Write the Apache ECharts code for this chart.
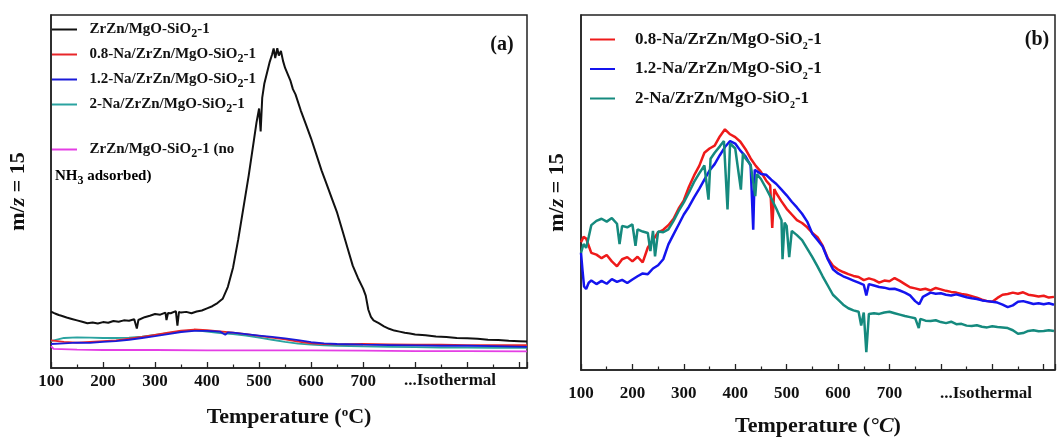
<!DOCTYPE html>
<html><head><meta charset="utf-8">
<script src="https://cdn.jsdelivr.net/npm/echarts@6/dist/echarts.min.js"></script>
<style>html,body{margin:0;padding:0;background:#fff}#c{width:1058px;height:442px}</style>
</head><body><div id="c"></div>
<script>
const SERIF = "'Liberation Serif','Times New Roman',serif";
const tickLabels = [100, 200, 300, 400, 500, 600, 700];
const isoText = '...Isothermal';
const namesA = ['ZrZn/MgO-SiO2-1', '0.8-Na/ZrZn/MgO-SiO2-1', '1.2-Na/ZrZn/MgO-SiO2-1', '2-Na/ZrZn/MgO-SiO2-1', 'ZrZn/MgO-SiO2-1 (no NH3 adsorbed)'];
const namesB = ['0.8-Na/ZrZn/MgO-SiO2-1 (b)', '1.2-Na/ZrZn/MgO-SiO2-1 (b)', '2-Na/ZrZn/MgO-SiO2-1 (b)'];

// Panel (a)
const aBlack = [[100,16.0],[105,15.6],[110,15.3],[115,15.0],[120,14.8],[130,14.3],[140,13.9],[150,13.5],[160,13.1],[170,12.7],[180,12.9],[190,12.6],[200,13.0],[210,12.8],[220,13.3],[230,13.1],[240,13.5],[250,13.4],[260,13.8],[265,11.2],[268,13.6],[280,14.4],[290,14.8],[300,15.3],[310,15.1],[320,15.7],[322,13.6],[325,15.6],[330,15.5],[340,16.1],[343,12.0],[346,15.9],[350,15.7],[360,15.9],[370,15.5],[380,16.0],[390,16.3],[400,16.9],[410,17.5],[420,18.4],[430,19.6],[440,23.0],[450,28.5],[460,36.5],[470,45.5],[480,54.5],[490,64.5],[495,69.5],[500,73.5],[503,67.0],[506,76.5],[510,80.5],[520,86.5],[525,88.8],[528,90.5],[531,87.8],[535,90.6],[538,88.5],[542,89.8],[546,87.0],[550,85.0],[560,81.5],[565,79.0],[570,77.5],[580,73.0],[590,69.0],[600,65.0],[610,60.5],[620,56.0],[630,52.0],[640,48.0],[650,44.0],[660,39.0],[670,34.0],[680,29.0],[690,25.5],[700,22.5],[705,20.5],[710,16.5],[715,14.5],[720,13.5],[730,12.7],[740,11.8],[750,11.1],[760,10.6],[770,10.3],[780,10.0],[790,9.8],[800,9.5],[820,9.3],[840,8.9],[860,8.8],[880,8.5],[900,8.4],[920,8.3],[940,8.0],[960,7.9],[980,7.7],[1000,7.6],[1015,7.5]];
const aRed = [[100,7.8],[125,7.4],[150,7.2],[175,7.4],[200,7.6],[225,7.8],[250,8.3],[275,8.8],[300,9.4],[325,10.0],[350,10.6],[375,10.9],[400,10.7],[425,10.4],[450,10.0],[475,9.6],[500,9.1],[525,8.6],[550,8.1],[575,7.5],[600,7.0],[625,6.8],[650,6.7],[700,6.8],[750,6.7],[800,6.6],[850,6.6],[900,6.5],[950,6.5],[1015,6.5]];
const aBlue = [[100,6.8],[125,7.0],[150,7.2],[175,7.1],[200,7.4],[225,7.6],[250,8.0],[275,8.5],[300,9.0],[325,9.6],[350,10.2],[375,10.5],[400,10.5],[425,10.3],[435,9.4],[440,10.1],[450,10.0],[475,9.6],[500,9.2],[525,8.8],[550,8.4],[575,7.9],[600,7.3],[625,7.0],[650,6.8],[700,6.6],[750,6.5],[800,6.4],[850,6.3],[900,6.3],[950,6.2],[1015,6.0]];
const aTeal = [[100,7.6],[125,8.5],[150,8.7],[175,8.6],[200,8.5],[225,8.5],[250,8.6],[275,8.9],[300,9.4],[325,9.9],[350,10.4],[375,10.7],[400,10.3],[425,9.9],[450,9.6],[475,9.2],[500,8.6],[525,8.0],[550,7.4],[575,6.9],[600,6.6],[625,6.4],[650,6.3],[700,6.1],[750,6.0],[800,5.9],[850,5.8],[900,5.8],[950,5.7],[1015,5.7]];
const aMagenta = [[100,6.2],[105,5.4],[150,5.2],[200,5.1],[300,5.1],[400,5.0],[500,5.0],[600,5.0],[700,4.9],[800,4.8],[900,4.8],[1015,4.7]];

// Panel (b)
const bRed = [[100,36],[105,37.5],[110,37],[115,35],[120,33],[130,32.5],[140,31.5],[150,32.4],[160,30.6],[170,29.2],[180,31.2],[190,31.8],[200,30.6],[210,31.9],[220,30.3],[230,34.5],[240,36.6],[250,38.8],[260,39.5],[270,40.8],[280,42.6],[290,45.5],[300,47.8],[310,51.6],[320,54.8],[330,57.5],[340,61.2],[350,62.4],[360,63.2],[370,65.8],[380,67.8],[390,66.4],[400,65.6],[410,64.3],[420,62.2],[430,59.6],[440,57.5],[450,55.8],[460,53.4],[468,52.0],[472,40.0],[476,51.0],[480,49.8],[490,47.5],[500,45.4],[510,43.8],[520,42.2],[530,41.4],[540,40.2],[550,38.6],[560,37.4],[570,35.0],[580,31.5],[590,29.4],[600,28.3],[610,27.6],[620,27.0],[630,26.5],[640,26.2],[650,25.3],[660,25.8],[670,25.4],[680,24.6],[690,25.2],[700,25.0],[710,25.9],[720,25.1],[730,24.2],[740,23.3],[750,23.0],[760,22.6],[770,22.9],[780,22.4],[790,23.1],[800,22.7],[810,22.3],[820,22.0],[830,21.8],[840,21.4],[850,21.2],[860,20.8],[870,20.4],[880,19.8],[890,19.4],[900,19.2],[910,20.3],[920,21.2],[930,21.4],[940,21.8],[950,21.5],[960,21.9],[970,21.2],[980,21.0],[990,20.7],[1000,20.9],[1010,20.4],[1020,20.6]];
const bBlue = [[100,33],[103,28],[106,23.5],[110,22.8],[115,24.6],[120,25.2],[130,24.2],[140,25.1],[150,24.3],[160,25.6],[170,24.8],[180,25.4],[190,24.5],[200,25.5],[210,26.4],[220,27.2],[230,27.0],[240,28.6],[250,29.5],[260,31.2],[270,35.4],[280,38.2],[290,41.0],[300,43.8],[310,46.0],[320,48.6],[330,51.0],[340,53.6],[350,56.2],[360,58.0],[370,60.5],[380,62.8],[390,64.5],[400,63.8],[410,61.8],[420,60.2],[430,57.6],[435,39.5],[438,56.4],[450,55.2],[460,55.0],[470,53.6],[480,52.4],[490,50.8],[500,49.2],[510,47.4],[520,45.8],[530,44.0],[540,41.8],[550,38.4],[560,36.6],[570,34.8],[580,31.2],[590,28.4],[600,27.2],[610,26.4],[620,25.8],[630,25.2],[640,24.6],[650,24.0],[655,21.0],[660,24.2],[670,23.8],[680,23.4],[690,23.2],[700,22.8],[710,22.9],[720,22.4],[730,21.8],[740,21.0],[750,19.4],[758,18.5],[765,20.6],[780,21.8],[790,21.5],[800,21.6],[810,21.2],[820,21.0],[830,21.3],[840,20.9],[850,20.5],[860,20.2],[870,20.0],[880,19.6],[890,19.4],[900,19.2],[910,19.0],[920,18.4],[930,17.7],[940,18.2],[950,19.2],[960,19.4],[970,19.0],[980,18.6],[990,18.8],[1000,18.5],[1010,18.8],[1020,18.4]];
const bTeal = [[100,33],[105,35.5],[110,34.4],[115,37.5],[120,40.8],[130,42.0],[140,42.6],[150,41.8],[160,42.8],[170,41.2],[175,35.5],[180,40.6],[190,40.2],[200,41.0],[206,35.0],[210,39.6],[220,39.0],[230,38.6],[235,33.5],[240,39.2],[244,32.0],[250,39.0],[260,38.8],[270,39.6],[280,42.0],[290,44.8],[300,47.2],[310,50.0],[320,53.0],[330,55.4],[340,57.6],[348,48.0],[352,59.5],[360,61.2],[370,63.0],[378,64.5],[385,45.2],[390,63.8],[400,62.4],[411,50.8],[415,61.0],[420,59.6],[430,57.8],[439,49.0],[442,55.2],[450,53.8],[460,51.2],[470,48.4],[480,45.4],[490,42.2],[492,31.2],[496,41.5],[500,40.6],[505,31.8],[510,39.2],[520,38.0],[530,36.6],[540,34.2],[550,31.8],[560,29.2],[570,26.4],[580,23.8],[590,21.2],[600,19.8],[610,18.4],[620,17.4],[630,16.8],[640,16.4],[645,12.5],[650,16.2],[655,5.0],[660,15.8],[670,16.0],[680,15.8],[690,16.2],[700,16.4],[710,16.0],[720,15.6],[730,15.2],[740,14.9],[750,14.6],[757,11.8],[760,14.4],[770,13.9],[780,13.8],[790,14.0],[800,13.5],[810,13.2],[820,13.6],[830,12.9],[840,13.0],[850,12.5],[860,12.4],[870,12.6],[880,12.2],[890,12.0],[900,12.3],[910,12.1],[920,12.0],[930,11.8],[940,11.2],[950,10.2],[960,10.4],[970,11.0],[980,11.2],[990,10.9],[1000,11.0],[1010,11.2],[1020,11.0]];

function subName(name) {
  const n = name.replace(' (b)', '').replace(' NH3 adsorbed)', '');
  const i = n.indexOf('SiO2');
  return '{n|' + n.slice(0, i + 3) + '}{s|2}{n|' + n.slice(i + 4) + '}';
}
const ax = {color: '#111', fontFamily: SERIF, fontWeight: 'bold'};
function xAxisCfg(grid, max, labelMargin, nameGap, nameFmt, nameRich) {
  return {
    gridIndex: grid, type: 'value', min: 100, max: max, interval: 100,
    axisLine: {show: true, onZero: false, lineStyle: {color: '#222', width: 1.5}},
    axisTick: {show: true, inside: true, length: 6, lineStyle: {color: '#222', width: 1.3}},
    minorTick: {show: true, splitNumber: 2, length: 3.5, lineStyle: {color: '#222', width: 1.2}},
    splitLine: {show: false}, minorSplitLine: {show: false},
    axisLabel: Object.assign({fontSize: 17, margin: labelMargin,
      formatter: v => tickLabels.indexOf(v) >= 0 ? String(v) : ''}, ax),
    name: nameFmt, nameLocation: 'middle', nameGap: nameGap,
    nameTextStyle: {rich: nameRich}
  };
}
function yAxisCfg(grid, nameGap) {
  return {
    gridIndex: grid, type: 'value', min: 0, max: 100,
    axisLine: {show: true, lineStyle: {color: '#222', width: 1.5}},
    axisTick: {show: false}, axisLabel: {show: false}, splitLine: {show: false},
    name: '{a|m/}{i|z}{a| = 15}', nameLocation: 'middle', nameGap: nameGap,
    nameTextStyle: {rich: {
      a: {fontSize: 22, fontFamily: SERIF, fontWeight: 'bold', color: '#111'},
      i: {fontSize: 22, fontFamily: SERIF, fontWeight: 'bold', fontStyle: 'italic', color: '#111'}
    }}
  };
}
const tA = {fontSize: 22, fontFamily: SERIF, fontWeight: 'bold', color: '#111'};
function line(name, x, y, data, color, w) {
  return {name: name, type: 'line', xAxisIndex: x, yAxisIndex: y, data: data,
    symbol: 'none', lineStyle: {color: color, width: w}, itemStyle: {color: color}, z: 3};
}
const legRichA = {
  n: {fontSize: 15, lineHeight: 21, fontFamily: SERIF, fontWeight: 'bold', color: '#111'},
  s: {fontSize: 12, lineHeight: 12, verticalAlign: 'bottom', fontFamily: SERIF, fontWeight: 'bold', color: '#111'}
};
const legRichB = {
  n: {fontSize: 17, lineHeight: 24, fontFamily: SERIF, fontWeight: 'bold', color: '#111'},
  s: {fontSize: 10, lineHeight: 10, verticalAlign: 'bottom', fontFamily: SERIF, fontWeight: 'bold', color: '#111'}
};
const lineIcon = 'path://M0,0 H100 V8 H0 Z';

const chart = echarts.init(document.getElementById('c'), null, {renderer: 'canvas'});
chart.setOption({
  animation: false,
  backgroundColor: '#fff',
  grid: [
    {left: 51, top: 15, right: 531, bottom: 74, show: true, borderColor: '#222', borderWidth: 1.5},
    {left: 581, top: 15, right: -12, bottom: 71, show: true, borderColor: '#222', borderWidth: 1.5}
  ],
  xAxis: [
    xAxisCfg(0, 1015, 5, 38, '{a|Temperature (}{o|o}{a|C)}', {a: tA, o: Object.assign({}, tA, {fontSize: 13, verticalAlign: 'top', lineHeight: 13})}),
    xAxisCfg(1, 1022, 15, 45, '{a|Temperature (}{i|°C}{a|)}', {a: tA, i: Object.assign({}, tA, {fontStyle: 'italic'})})
  ],
  yAxis: [yAxisCfg(0, 22), yAxisCfg(1, 13)],
  legend: [
    {orient: 'vertical', left: 52, top: 22, padding: 0, itemGap: 7, itemWidth: 36, itemHeight: 2, icon: lineIcon,
     data: namesA.slice(0, 4), formatter: subName, textStyle: {rich: legRichA, padding: [0, 0, 0, 2]}, selectedMode: false},
    {orient: 'vertical', left: 52, top: 142, padding: 0, itemGap: 7, itemWidth: 36, itemHeight: 2, icon: lineIcon,
     data: [namesA[4]], formatter: subName, textStyle: {rich: legRichA, padding: [0, 0, 0, 2]}, selectedMode: false},
    {orient: 'vertical', left: 590, top: 31, padding: 0, itemGap: 9, itemWidth: 43, itemHeight: 2, icon: lineIcon,
     data: namesB, formatter: subName, textStyle: {rich: legRichB, padding: [0, 0, 0, 6]}, selectedMode: false}
  ],
  graphic: [
    {type: 'text', left: 55, top: 169, style: {text: '{n|NH}{s|3}{n| adsorbed)}', rich: legRichA}},
    {type: 'text', x: 502, y: 45, style: {text: '(a)', font: 'bold 20px ' + SERIF, fill: '#111', align: 'center', verticalAlign: 'middle'}},
    {type: 'text', x: 1037, y: 40, style: {text: '(b)', font: 'bold 20px ' + SERIF, fill: '#111', align: 'center', verticalAlign: 'middle'}},
    {type: 'text', x: 450, y: 381, style: {text: isoText, font: 'bold 17px ' + SERIF, fill: '#111', align: 'center', verticalAlign: 'middle'}},
    {type: 'text', x: 940, y: 394, style: {text: isoText, font: 'bold 17px ' + SERIF, fill: '#111', align: 'left', verticalAlign: 'middle'}}
  ],
  series: [
    line(namesA[4], 0, 0, aMagenta, '#e43ee4', 1.8),
    line(namesA[3], 0, 0, aTeal, '#2aa3a0', 1.8),
    line(namesA[1], 0, 0, aRed, '#e8262a', 1.8),
    line(namesA[2], 0, 0, aBlue, '#1a1ad8', 1.8),
    line(namesA[0], 0, 0, aBlack, '#111111', 2),
    line(namesB[0], 1, 1, bRed, '#ee1a1a', 2.5),
    line(namesB[1], 1, 1, bBlue, '#1414ee', 2.5),
    line(namesB[2], 1, 1, bTeal, '#158a7e', 2.5)
  ]
});
</script></body></html>
